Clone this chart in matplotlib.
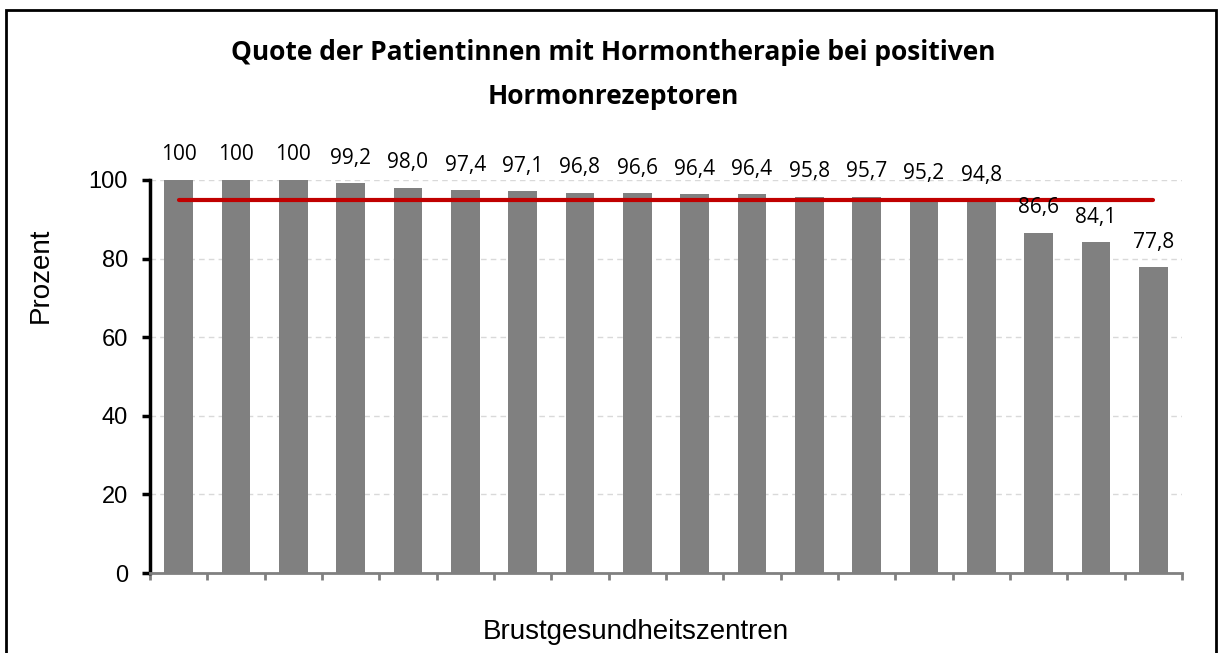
import matplotlib
matplotlib.use("Agg")
import matplotlib.pyplot as plt
import matplotlib.patches as mpatches

TITLE_LINES = ["Quote der Patientinnen mit Hormontherapie bei positiven",
               "Hormonrezeptoren"]
X_LABEL = "Brustgesundheitszentren"
Y_LABEL = "Prozent"

values = [100, 100, 100, 99.2, 98.0, 97.4, 97.1, 96.8, 96.6, 96.4, 96.4,
          95.8, 95.7, 95.2, 94.8, 86.6, 84.1, 77.8]
value_labels = ["100", "100", "100", "99,2", "98,0", "97,4", "97,1", "96,8",
                "96,6", "96,4", "96,4", "95,8", "95,7", "95,2", "94,8",
                "86,6", "84,1", "77,8"]
target = 95
y_ticks = [0, 20, 40, 60, 80, 100]

BAR_COLOUR = "#808080"
LINE_COLOUR = "#c00000"
LABEL_FONT = ["Open Sans", "DejaVu Sans"]
AXIS_FONT = ["Liberation Sans", "DejaVu Sans"]

fig = plt.figure(figsize=(12.22, 6.53), dpi=100)
ax = fig.add_axes([150 / 1222, 1 - 573 / 653, 1032 / 1222, 393 / 653])

x = list(range(len(values)))
ax.bar(x, values, width=0.5, color=BAR_COLOUR, zorder=2)
ax.plot([x[0], x[-1]], [target, target], color=LINE_COLOUR, lw=3, zorder=3,
        solid_capstyle="round")

for xi, v, lab in zip(x, values, value_labels):
    ax.annotate(lab, (xi, v), xytext=(0, 18), textcoords="offset points",
                ha="center", va="center", fontsize=15, family=LABEL_FONT,
                annotation_clip=False)

ax.set_xlim(-0.5, len(values) - 0.5)
ax.set_ylim(0, 100)
ax.set_yticks(y_ticks)
ax.set_yticklabels([str(t) for t in y_ticks], family=AXIS_FONT, fontsize=17)
ax.yaxis.grid(True, color="#d9d9d9", linestyle=(0, (4, 3)), lw=1, zorder=0)

ax.set_xticks([i - 0.5 for i in range(len(values) + 1)])
ax.set_xticklabels([])
ax.tick_params(axis="x", direction="out", length=5, width=2, color="#808080")
ax.tick_params(axis="y", direction="out", length=6, width=2.5, color="black",
               pad=10)

for side in ["top", "right"]:
    ax.spines[side].set_visible(False)
ax.spines["left"].set_linewidth(2.5)
ax.spines["left"].set_color("black")
ax.spines["bottom"].set_linewidth(2)
ax.spines["bottom"].set_color("#808080")

fig.text(636 / 1222, 1 - 632 / 653, X_LABEL, ha="center", va="center",
         fontsize=20, family=AXIS_FONT)
fig.text(41 / 1222, 1 - 275 / 653, Y_LABEL, ha="center", va="center",
         rotation=90, fontsize=20, family=AXIS_FONT)
for line, ypix in zip(TITLE_LINES, [52, 96]):
    fig.text(613 / 1222, 1 - ypix / 653, line, ha="center", va="center",
             fontsize=19, fontweight="bold", family=LABEL_FONT)

# outer frame, bottom edge runs off the picture
frame = mpatches.Rectangle((6 / 1222, -0.05), 1210 / 1222, 1.05 - 10 / 653,
                           transform=fig.transFigure, fill=False,
                           edgecolor="black", lw=2, clip_on=False)
fig.patches.append(frame)

fig.savefig("out.png", dpi=100)
